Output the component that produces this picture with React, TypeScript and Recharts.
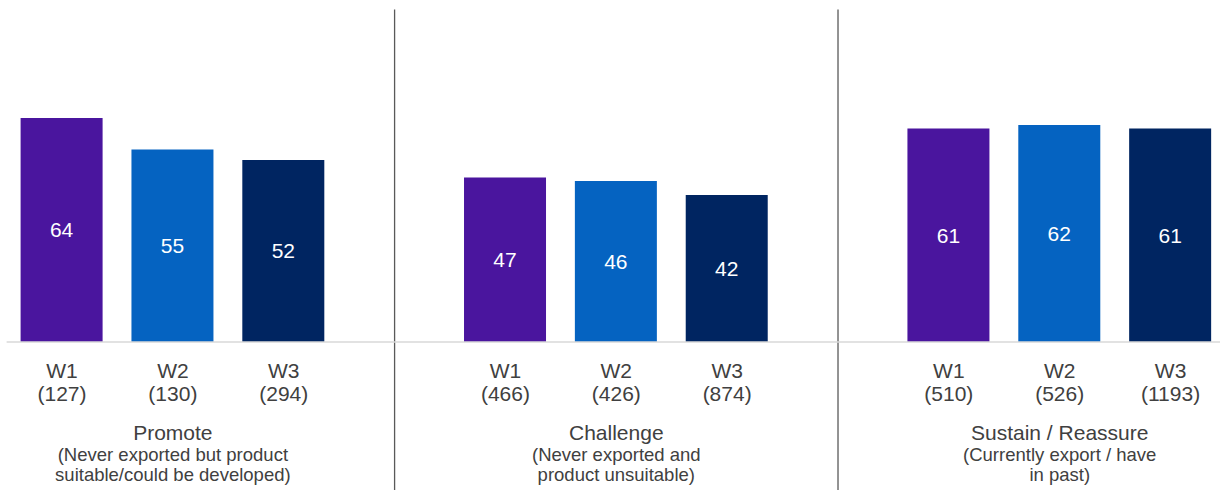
import React from 'react';
import { BarChart, Bar, XAxis, YAxis, Cell, LabelList, ReferenceLine } from 'recharts';

const waves = ['W1', 'W2', 'W3'];
const waveColors = ['#4A159E', '#0563C1', '#002561'];
const groups = ['Promote', 'Challenge', 'Sustain / Reassure'];
const groupNotes = [
  ['(Never exported but product', 'suitable/could be developed)'],
  ['(Never exported and', 'product unsuitable)'],
  ['(Currently export / have', 'in past)'],
];
const promoteScores = [64, 55, 52];
const challengeScores = [47, 46, 42];
const sustainScores = [61, 62, 61];
const promoteBases = [127, 130, 294];
const challengeBases = [466, 426, 874];
const sustainBases = [510, 526, 1193];

const scores = [promoteScores, challengeScores, sustainScores];
const bases = [promoteBases, challengeBases, sustainBases];

type Row = { key: string; value: number | null; wave?: number; group?: number; base?: number };
const data: Row[] = [];
groups.forEach((_, g) => {
  waves.forEach((__, w) => {
    data.push({ key: `g${g}w${w}`, value: scores[g][w], wave: w, group: g, base: bases[g][w] });
  });
  if (g < groups.length - 1) data.push({ key: `gap${g}`, value: null });
});

const FONT = '"Liberation Sans", Arial, sans-serif';
const TXT = '#404040';

const Tick = (props: any) => {
  const { x, y, payload } = props;
  const row = data.find((d) => d.key === payload.value);
  if (!row || row.wave === undefined) return null;
  const g = row.group as number;
  const w = row.wave as number;
  return (
    <g>
      <text x={x} y={y + 36} textAnchor="middle" fill={TXT} fontSize={21} fontFamily={FONT}>
        {waves[w]}
      </text>
      <text x={x} y={y + 59} textAnchor="middle" fill={TXT} fontSize={21} fontFamily={FONT}>
        {`(${row.base})`}
      </text>
      {w === 1 && (
        <>
          <text x={x} y={y + 98} textAnchor="middle" fill={TXT} fontSize={21} fontFamily={FONT}>
            {groups[g]}
          </text>
          <text x={x} y={y + 119} textAnchor="middle" fill={TXT} fontSize={18.5} fontFamily={FONT}>
            {groupNotes[g][0]}
          </text>
          <text x={x} y={y + 139} textAnchor="middle" fill={TXT} fontSize={18.5} fontFamily={FONT}>
            {groupNotes[g][1]}
          </text>
        </>
      )}
    </g>
  );
};

export default function App() {
  return (
    <div style={{ position: 'absolute', left: 0, top: 0, width: 1220, height: 491, overflow: 'hidden', background: '#fff' }}>
      <BarChart
        width={1226}
        height={491}
        data={data}
        margin={{ top: 9.5, right: 0, left: 6.6, bottom: 0 }}
        barSize={82}
      >
        <YAxis hide domain={[0, 95]} />
        <XAxis
          dataKey="key"
          interval={0}
          height={149}
          tickLine={false}
          tickSize={0}
          tickMargin={0}
          axisLine={{ stroke: '#d9d9d9', strokeWidth: 1.5 }}
          tick={<Tick />}
        />
        <Bar dataKey="value" isAnimationActive={false}>
          {data.map((d) => (
            <Cell key={d.key} fill={d.wave !== undefined ? waveColors[d.wave] : 'none'} />
          ))}
          <LabelList dataKey="value" position="center" fill="#ffffff" fontSize={21} fontFamily={FONT} />
        </Bar>
        {[0, 1].map((g) => (
          <ReferenceLine
            key={g}
            segment={[
              { x: `gap${g}`, y: 95 },
              { x: `gap${g}`, y: -42.3 },
            ]}
            ifOverflow="visible"
            stroke="#595959"
            strokeWidth={1.3}
          />
        ))}
      </BarChart>
    </div>
  );
}
